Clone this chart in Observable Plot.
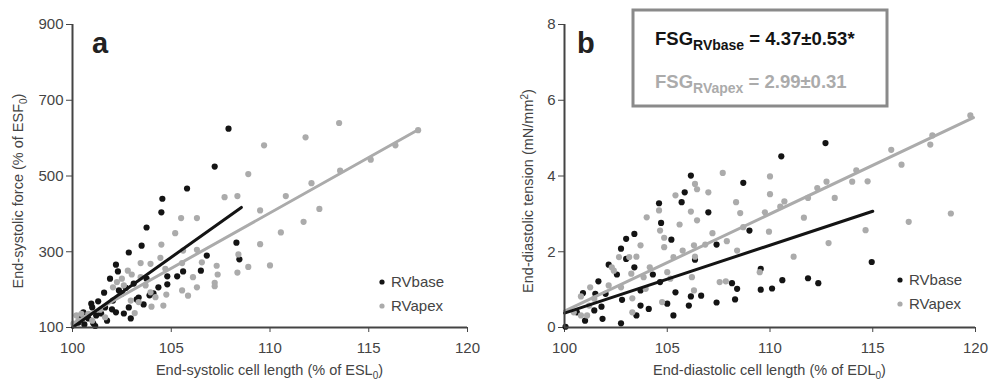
<!DOCTYPE html>
<html><head><meta charset="utf-8">
<script src="https://cdn.jsdelivr.net/npm/d3@7"></script>
<script src="https://cdn.jsdelivr.net/npm/@observablehq/plot@0.6"></script>
<style>
body{margin:0;background:#fff;}
#wrap{display:flex;width:989px;height:385px;}
svg{display:block;}
</style></head><body><div id="wrap"></div>
<script>
const xTicks = [100, 105, 110, 115, 120];
const aYTicks = [100, 300, 500, 700, 900];
const bYTicks = [0, 2, 4, 6, 8];
const seriesNames = ["RVbase", "RVapex"];

// Panel a: end-systolic cell length (%) vs end-systolic force (%)
const aBase = [[107.9,625],[107.2,525],[105.8,467],[104.55,440],[104.5,404],[103.75,364],[103.5,316],[102.85,298],[102.2,266],[102.3,248],[101.9,229],[101.6,192],[101.3,169],[100.95,163],[101.0,153],[100.55,140],[108.3,324],[106.8,290],[108.45,280],[106.5,250],[105.6,248],[105.3,235],[104.8,235],[104.8,214],[104.35,206],[103.75,229],[103.6,161],[103.35,179],[103.25,174],[102.6,137],[102.2,140],[102.0,148],[101.65,153],[101.45,137],[101.2,132],[101.05,111],[100.8,124],[100.45,126],[100.3,113],[102.35,198],[102.5,190],[103.1,216],[102.85,153],[102.05,171],[101.75,118],[102.95,124],[103.9,185],[101.15,104],[100.6,108],[102.7,205],[104.1,190]];
const aApex = [[113.5,640],[111.8,602],[109.7,581],[108.9,505],[107.7,444],[108.35,447],[109.5,409],[110.8,447],[112.1,481],[113.55,514],[115.1,543],[116.35,581],[117.5,621],[112.5,413],[111.7,379],[110.55,351],[109.5,320],[108.4,293],[110.0,264],[108.9,260],[108.35,245],[107.3,263],[107.35,240],[107.2,218],[107.2,209],[106.55,272],[105.5,389],[106.3,389],[105.2,349],[104.5,319],[105.6,303],[106.3,305],[103.45,270],[103.95,268],[104.45,284],[104.7,255],[105.55,270],[106.1,233],[104.75,187],[104.6,158],[105.55,198],[105.85,184],[104.2,180],[103.95,193],[104.0,155],[103.15,138],[102.05,206],[102.25,220],[102.5,229],[102.6,211],[103.45,233],[103.7,211],[103.35,167],[101.4,147],[100.45,136],[100.3,118],[100.05,110],[100.8,136],[101.65,127],[101.0,118],[100.2,132],[102.95,171],[106.3,206],[102.8,250],[103.0,240]];
const aBaseFit = [[100,100],[108.55,417]];
const aApexFit = [[100,110],[117.5,622]];

// Panel b: end-diastolic cell length (%) vs end-diastolic tension (mN/mm2)
const bBase = [[106.15,4.01],[105.85,3.57],[105.7,3.31],[104.6,3.28],[104.7,2.76],[103.4,2.47],[103.0,2.34],[102.75,2.08],[103.0,1.81],[105.2,2.32],[103.4,1.59],[102.15,1.66],[102.55,1.40],[104.3,1.40],[101.65,1.22],[100.9,0.91],[101.5,0.89],[105.4,0.93],[106.35,1.79],[103.7,0.98],[102.8,0.73],[104.65,1.20],[103.7,0.58],[104.1,0.49],[105.0,0.63],[106.15,0.82],[106.05,0.58],[103.5,0.32],[101.85,0.23],[105.3,0.32],[102.75,0.11],[101.0,0.18],[101.45,0.45],[101.8,0.55],[100.6,0.40],[102.0,0.89],[112.7,4.87],[110.55,4.52],[108.7,3.82],[107.0,3.04],[109.0,2.56],[107.4,2.19],[109.55,1.55],[108.15,1.17],[108.4,1.02],[109.55,1.00],[110.1,1.03],[110.6,1.25],[111.85,1.30],[112.35,1.17],[106.65,0.84],[107.4,0.66],[108.3,0.74],[114.95,1.73],[100.05,0.02]];
const bApex = [[106.35,3.79],[105.4,3.49],[106.15,3.06],[106.45,2.83],[105.6,2.72],[104.6,3.09],[104.65,2.56],[104.85,2.37],[104.85,2.12],[103.7,2.17],[103.5,1.87],[102.65,1.86],[102.3,1.59],[103.25,1.42],[104.15,1.59],[105.0,1.46],[105.3,1.86],[102.15,1.11],[102.75,1.06],[101.25,1.06],[100.8,0.82],[101.45,0.76],[103.3,0.77],[103.3,0.40],[101.1,0.32],[100.45,0.40],[105.75,2.03],[106.2,1.33],[103.95,1.02],[107.7,4.08],[110.0,3.99],[106.45,3.65],[107.0,3.57],[110.0,3.52],[108.35,3.31],[108.55,3.02],[109.75,3.04],[110.5,3.19],[110.7,3.33],[111.85,3.42],[112.3,3.68],[112.75,3.85],[113.15,3.42],[107.2,2.49],[108.7,2.65],[109.95,2.53],[111.65,2.90],[107.9,2.28],[106.85,2.19],[108.4,2.03],[106.35,1.87],[111.15,1.87],[112.85,2.23],[109.5,1.46],[107.55,1.20],[107.85,1.22],[106.3,0.98],[119.75,5.60],[117.9,5.07],[117.8,4.83],[115.9,4.69],[116.4,4.30],[114.2,4.15],[114.0,3.85],[114.75,3.86],[116.75,2.79],[118.8,3.01],[114.65,2.57],[103.85,1.33],[104.75,0.67],[104.0,2.91],[101.2,0.58],[102.4,1.50],[103.15,1.86],[105.15,1.29],[106.3,2.17],[100.8,0.32]];
const bBaseFit = [[100,0.38],[115.0,3.07]];
const bApexFit = [[100,0.43],[119.9,5.54]];

const fsgLabels = ["RVbase", "RVapex"];
const fsgValues = [" = 4.37\u00B10.53*", " = 2.99\u00B10.31"];

const FONT = '"Liberation Sans", Arial, Helvetica, sans-serif';
const AX = "#444", BLACK = "#141414", GRAY = "#ababab";

function panel(o) {
  return Plot.plot({
    width: o.width, height: 385,
    marginTop: 24, marginBottom: 58, marginLeft: o.marginLeft, marginRight: o.marginRight,
    x: {domain: [100, 120]},
    y: {domain: o.yDomain},
    style: {fontFamily: FONT, background: "transparent", overflow: "visible"},
    marks: [
      Plot.axisX({ticks: xTicks, tickSize: 5, tickPadding: 10, fontSize: 15, color: AX, label: null, tickFormat: d => String(d)}),
      Plot.axisY({ticks: o.yTicks, tickSize: 6, tickPadding: 3, fontSize: 15, color: AX, label: null, tickFormat: d => String(d)}),
      Plot.dot(o.base, {x: d => d[0], y: d => d[1], r: 3.1, fill: BLACK, stroke: null}),
      Plot.dot(o.apex, {x: d => d[0], y: d => d[1], r: 3.1, fill: GRAY, stroke: null}),
      Plot.line(o.apexFit, {x: d => d[0], y: d => d[1], stroke: GRAY, strokeWidth: 3}),
      Plot.line(o.baseFit, {x: d => d[0], y: d => d[1], stroke: BLACK, strokeWidth: 3}),
      Plot.ruleX([100], {stroke: AX, strokeWidth: 2}),
      Plot.ruleY([o.yDomain[0]], {stroke: AX, strokeWidth: 2})
    ]
  });
}

const pa = panel({width: 495, marginLeft: 72, marginRight: 28, yDomain: [100, 900], yTicks: aYTicks, base: aBase, apex: aApex, baseFit: aBaseFit, apexFit: aApexFit});
const pb = panel({width: 494, marginLeft: 69, marginRight: 14, yDomain: [0, 8], yTicks: bYTicks, base: bBase, apex: bApex, baseFit: bBaseFit, apexFit: bApexFit});
document.getElementById("wrap").append(pa, pb);

function decorate(svgEl, cfg) {
  const s = d3.select(svgEl);
  // panel letter
  s.append("text").attr("x", cfg.letterX).attr("y", 53).attr("text-anchor", "start").attr("font-family", FONT)
    .attr("font-weight", "bold").attr("font-size", 29).attr("fill", "#222").text(cfg.letter);
  // x title
  const xt = s.append("text").attr("x", cfg.xTitleX).attr("y", 375).attr("text-anchor", "middle")
    .attr("font-family", FONT).attr("font-size", 14.5).attr("fill", AX);
  xt.append("tspan").text(cfg.xTitle[0]);
  xt.append("tspan").attr("dy", 4).attr("font-size", 10).text("0");
  xt.append("tspan").attr("dy", -4).text(")");
  // y title
  const yt = s.append("text").attr("transform", `translate(${cfg.yTitleX},191) rotate(-90)`)
    .attr("text-anchor", "middle").attr("font-family", FONT).attr("font-size", 14.5).attr("fill", AX);
  yt.append("tspan").text(cfg.yTitle[0]);
  yt.append("tspan").attr("dy", cfg.yTitle[2]).attr("font-size", 10).text(cfg.yTitle[1]);
  yt.append("tspan").attr("dy", -cfg.yTitle[2]).text(")");
  // legend
  const lg = s.append("g").attr("font-family", FONT).attr("font-size", 15).attr("fill", AX).attr("text-anchor", "start");
  [[BLACK, 0], [GRAY, 1]].forEach(([c, i]) => {
    const y = cfg.legY + i * 24;
    lg.append("circle").attr("cx", cfg.legX).attr("cy", y).attr("r", 2.6).attr("fill", c);
    lg.append("text").attr("x", cfg.legX + 9).attr("y", y).attr("dy", "0.36em").text(seriesNames[i]);
  });
}

decorate(pa, {letter: "a", letterX: 92, xTitleX: 269.5, xTitle: ["End-systolic cell length (% of ESL"],
  yTitleX: 23, yTitle: ["End-systolic force (% of ESF", "0", 4], legX: 382, legY: 282});
decorate(pb, {letter: "b", letterX: 82, xTitleX: 274.5, xTitle: ["End-diastolic cell length (% of EDL"],
  yTitleX: 38, yTitle: ["End-diastolic tension (mN/mm", "2", -5], legX: 405, legY: 280});

// FSG box in panel b
(function () {
  const s = d3.select(pb);
  s.append("rect").attr("x", 138).attr("y", 10).attr("width", 254).attr("height", 96)
    .attr("fill", "#fff").attr("stroke", "#8a8a8a").attr("stroke-width", 3);
  [[BLACK, 45], [GRAY, 88]].forEach(([c, y], i) => {
    const t = s.append("text").attr("x", 160).attr("y", y).attr("text-anchor", "start").attr("font-family", FONT)
      .attr("font-weight", "bold").attr("font-size", 18.5).attr("fill", c);
    t.append("tspan").text("FSG");
    t.append("tspan").attr("dy", 5).attr("font-size", 14).text(fsgLabels[i]);
    t.append("tspan").attr("dy", -5).text(fsgValues[i]);
  });
})();
</script></body></html>
